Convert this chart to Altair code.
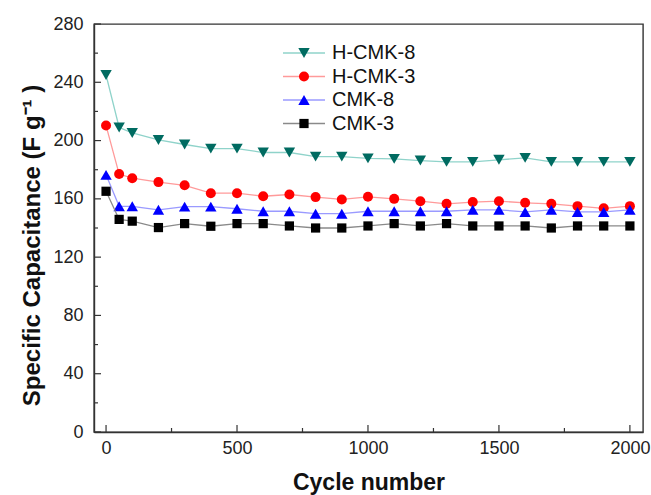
import altair as alt
import pandas as pd

cycles = [0, 50, 100, 200, 300, 400, 500, 600, 700, 800, 900, 1000,
          1100, 1200, 1300, 1400, 1500, 1600, 1700, 1800, 1900, 2000]
h_cmk8 = [245, 209, 205.2, 200.4, 197.3, 194.5, 194.5, 191.8, 191.8, 189, 189, 187.8,
          187.4, 186.3, 185.4, 185.4, 186.8, 188.1, 185.4, 185.4, 185.4, 185.4]
h_cmk3 = [210.3, 177, 174.2, 171.5, 169.3, 163.9, 163.9, 161.8, 163, 161.2, 159.6, 161.4,
          160, 158.4, 156.6, 157.8, 158.4, 157.3, 156.6, 155, 153.5, 155]
cmk8 = [176.5, 154.9, 154.9, 152.5, 154.7, 154.7, 153.2, 151.5, 151.5, 149.8, 149.8, 151.5,
        151.5, 151.5, 151.5, 152.5, 152.5, 151, 152.5, 151, 151, 152.5]
cmk3 = [165.2, 145.9, 144.7, 140.3, 143, 141.2, 143, 143, 141.4, 140, 140, 141.4,
        143, 141.4, 143, 141.4, 141.4, 141.4, 140, 141.4, 141.4, 141.4]

series_names = ["H-CMK-8", "H-CMK-3", "CMK-8", "CMK-3"]
series_values = [h_cmk8, h_cmk3, cmk8, cmk3]
marker_colors = ["#006b61", "#ff0000", "#0000ff", "#000000"]
line_colors = ["#8fd3ca", "#ff9a9a", "#9a9aff", "#8a8a8a"]
shapes = ["triangle-down", "circle", "triangle-up", "square"]
sizes = [130, 100, 130, 85]

x_major = [0, 500, 1000, 1500, 2000]
x_minor = [250, 750, 1250, 1750]
y_major = [0, 40, 80, 120, 160, 200, 240, 280]
y_minor = [20, 60, 100, 140, 180, 220, 260]

W, H = 549, 408
FONT = "Liberation Sans"

x_scale = alt.Scale(domain=[-46, 2050], nice=False, zero=False)
y_scale = alt.Scale(domain=[0, 280], nice=False, zero=False)

x_axis = alt.Axis(values=x_major, format="d", ticks=False, grid=False, title="Cycle number",
                  labelPadding=7, titleFontSize=23, titleFontWeight="bold",
                  titleX=W / 2, titleY=50, titleBaseline="middle", titleAlign="center")
y_axis = alt.Axis(values=y_major, format="d", ticks=False, grid=False,
                  title="Specific Capacitance  (F  g\u207b\u00b9 )",
                  labelPadding=11, titleFontSize=24, titleFontWeight="bold",
                  titleX=-62, titleY=221, titleAngle=270, titleBaseline="middle",
                  titleAlign="center")

X = alt.X("cycle:Q", scale=x_scale, axis=x_axis)
Y = alt.Y("cap:Q", scale=y_scale, axis=y_axis)

layers = []
for name, vals, mc, lc, shp, sz in zip(series_names, series_values, marker_colors,
                                       line_colors, shapes, sizes):
    df = pd.DataFrame({"cycle": cycles, "cap": vals, "series": name})
    base = alt.Chart(df).encode(x=X, y=Y)
    layers.append(base.mark_line(color=lc, strokeWidth=1.3))
    layers.append(base.mark_point(shape=shp, filled=True, color=mc, size=sz,
                                  opacity=1, strokeWidth=0))

# inward ticks
def xticks(vals, length):
    return alt.Chart(pd.DataFrame({"cycle": vals})).mark_rule(
        color="#333333", strokeWidth=1.2).encode(
        x=X, y=alt.value(H), y2=alt.value(H - length))

def yticks(vals, length):
    return alt.Chart(pd.DataFrame({"cap": vals})).mark_rule(
        color="#333333", strokeWidth=1.2).encode(
        y=Y, x=alt.value(0), x2=alt.value(length))

layers += [xticks(x_major, 7), xticks(x_minor, 4), yticks(y_major, 7), yticks(y_minor, 4)]

# legend
dummy = pd.DataFrame({"a": [0]})
for i, (name, mc, lc, shp, sz) in enumerate(zip(series_names, marker_colors,
                                                line_colors, shapes, sizes)):
    ry = 29 + 23.5 * i
    layers.append(alt.Chart(dummy).mark_rule(color=lc, strokeWidth=1.3).encode(
        x=alt.value(189), x2=alt.value(231), y=alt.value(ry)))
    layers.append(alt.Chart(dummy).mark_point(shape=shp, filled=True, color=mc, size=sz,
                                              opacity=1, strokeWidth=0).encode(
        x=alt.value(210), y=alt.value(ry)))
    layers.append(alt.Chart(dummy).mark_text(text=name, align="left", baseline="middle",
                                             font=FONT, fontSize=20, color="#111111").encode(
        x=alt.value(238), y=alt.value(ry)))

chart = alt.layer(*layers).properties(
    width=W, height=H,
    autosize=alt.AutoSizeParams(type="none"),
    padding={"left": 94, "top": 24, "right": 8, "bottom": 63},
    background="white",
).configure_view(
    stroke="#333333", strokeWidth=1.4
).configure_axis(
    labelFont=FONT, titleFont=FONT, labelFontSize=18, labelColor="#222222",
    titleColor="#111111", domainColor="#333333", domainWidth=1.4
)

chart.save("out.html", embed_options={"renderer": "svg", "actions": False})
